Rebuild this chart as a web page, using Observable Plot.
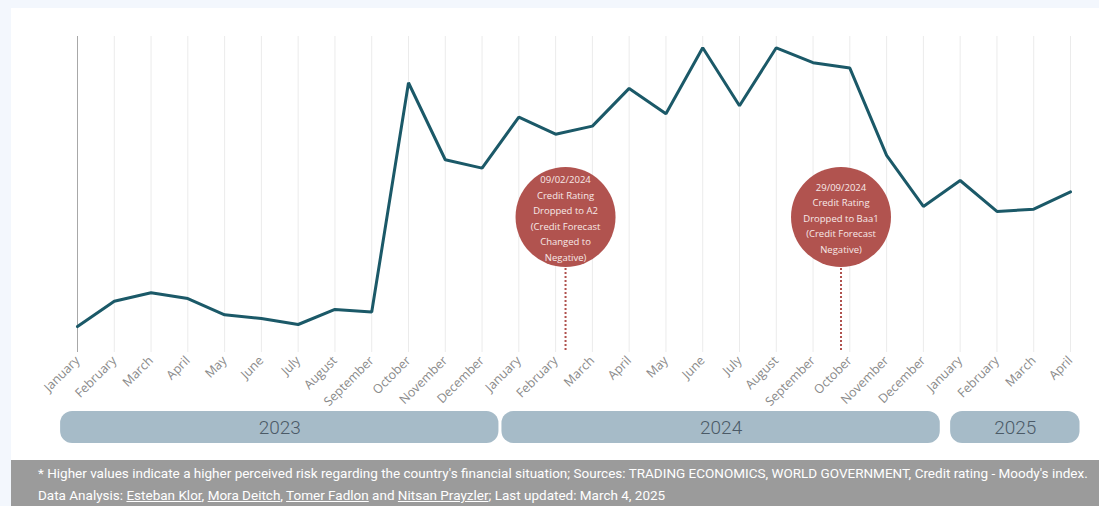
<!DOCTYPE html>
<html><head><meta charset="utf-8">
<script src="https://cdn.jsdelivr.net/npm/d3@7"></script>
<script src="https://cdn.jsdelivr.net/npm/@observablehq/plot@0.6"></script>
<style>
body{margin:0;background:#f3f7fd;width:1099px;height:506px;overflow:hidden;position:relative;font-family:Lato,sans-serif}
#panel{position:absolute;left:11px;top:8px;width:1088px;height:452px;background:#fff}
#chart,#years{position:absolute;left:0}
#chart{top:0}
#years{top:403px}
#footer{position:absolute;left:11px;top:460px;width:1088px;height:46px;background:#9b9b9b;color:#fff;font-family:Roboto,sans-serif;font-size:13.5px;}
#footer div{position:absolute;left:27px;white-space:nowrap}
#footer a{color:#fff;text-decoration:underline}
</style>
</head><body>
<div id="panel"><div id="chart"></div><div id="years"></div></div>
<div id="footer">
<div style="top:5px">* Higher values indicate a higher perceived risk regarding the country's financial situation; Sources: TRADING ECONOMICS, WORLD GOVERNMENT, Credit rating - Moody's index.</div>
<div style="top:27px">Data Analysis: <a>Esteban Klor</a>, <a>Mora Deitch</a>, <a>Tomer Fadlon</a> and <a>Nitsan Prayzler</a>; Last updated: March 4, 2025</div>
</div>
<script>
const monthLabels = ["January","February","March","April","May","June","July","August","September","October","November","December",
  "January","February","March","April","May","June","July","August","September","October","November","December",
  "January","February","March","April"];
const monthYears = ["2023","2023","2023","2023","2023","2023","2023","2023","2023","2023","2023","2023",
  "2024","2024","2024","2024","2024","2024","2024","2024","2024","2024","2024","2024",
  "2025","2025","2025","2025"];
const values = [31.5, 42.7, 46.5, 43.9, 36.7, 35.1, 32.4, 39.1, 37.9, 139.5, 105.4, 101.7,
  124.3, 116.7, 120.3, 137.0, 125.8, 155.0, 129.3, 155.0, 148.4, 146.0, 107.3, 84.7,
  96.2, 82.5, 83.5, 91.2];
const years = ["2023","2024","2025"];
const eventDates = ["09/02/2024","29/09/2024"];
const eventMonthPos = [13.27, 20.76];
const eventLabels = [
  "09/02/2024\nCredit Rating\nDropped to A2\n(Credit Forecast\nChanged to\nNegative)",
  "29/09/2024\nCredit Rating\nDropped to Baa1\n(Credit Forecast\nNegative)"
];

const idx = d3.range(monthLabels.length);
const series = idx.map(i => ({i, v: values[i]}));
const events = eventDates.map((d, k) => ({date: d, x: eventMonthPos[k], text: eventLabels[k]}));

const W = 1088, ML = 66, MR = 29;
const xDomain = [0, monthLabels.length - 1];

const chart = Plot.plot({
  width: W, height: 452,
  marginLeft: ML, marginRight: MR, marginTop: 28, marginBottom: 108,
  x: {domain: xDomain},
  y: {domain: [20, 160], axis: null},
  style: {fontFamily: "'Open Sans', sans-serif", background: "transparent"},
  marks: [
    Plot.ruleX(idx.slice(1), {stroke: "#ebebeb", strokeWidth: 1}),
    Plot.ruleX([0], {stroke: "#a8a8a8", strokeWidth: 1}),
    Plot.axisX(idx, {tickFormat: i => monthLabels[i], tickRotate: -45, tickSize: 0, tickPadding: 6, fontSize: 12.5, fill: "#8a8a8a", fontFamily: "'Open Sans', sans-serif"}),
    Plot.ruleX(events, {x: "x", stroke: "#b0524e", strokeWidth: 2, strokeDasharray: "2,2", insetTop: 232}),
    Plot.dot(events, {x: "x", r: 50, fill: "#b1534f", frameAnchor: "middle", dy: 22.5}),
    Plot.text(events, {x: "x", text: "text", frameAnchor: "middle", dy: 22.5, fontSize: 9.5, lineHeight: 1.63, fill: "#f7e9e8", fontFamily: "'Open Sans', sans-serif"}),
    Plot.line(series, {x: "i", y: "v", stroke: "#1b5968", strokeWidth: 3, strokeLinejoin: "miter"})
  ]
});
document.getElementById("chart").append(chart);

const yearData = years.map(y => {
  const ii = idx.filter(i => monthYears[i] === y);
  const n = ii.length, mid = (ii[0] + ii[n - 1]) / 2;
  const half = n === 12 ? 6 : n * 0.45;
  return {year: y, x1: mid - half, x2: mid + half};
});
const yearsPlot = Plot.plot({
  width: W, height: 32,
  marginLeft: ML, marginRight: MR, marginTop: 0, marginBottom: 0,
  x: {domain: xDomain, axis: null},
  style: {background: "transparent"},
  marks: [
    Plot.rect(yearData, {x1: "x1", x2: "x2", fill: "#a6bbc8", rx: 12, insetLeft: 1.5, insetRight: 1.5}),
    Plot.text(yearData, {x: d => (d.x1 + d.x2) / 2, text: "year", frameAnchor: "middle", fontSize: 19, fill: "#4b5a67", fontFamily: "Roboto, sans-serif", fontWeight: 300})
  ]
});
document.getElementById("years").append(yearsPlot);
</script>
</body></html>
